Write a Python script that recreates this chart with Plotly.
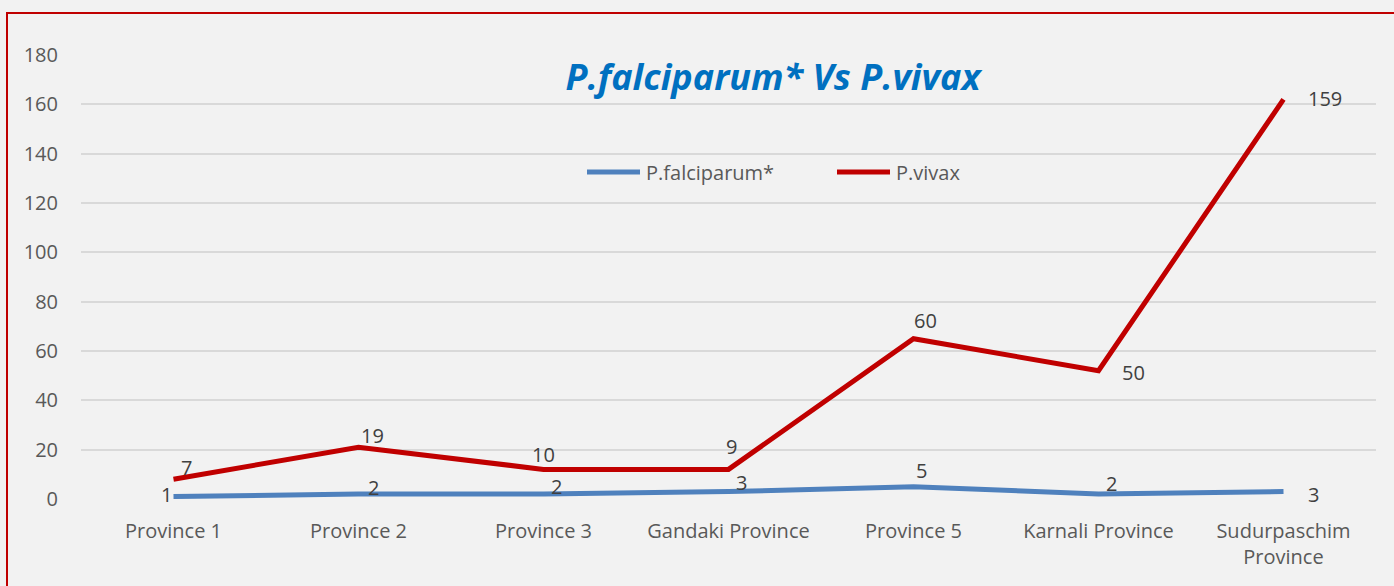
import plotly.graph_objects as go

provinces = ["Province 1", "Province 2", "Province 3", "Gandaki Province",
             "Province 5", "Karnali Province", "Sudurpaschim<br>Province"]
falciparum = [1, 2, 2, 3, 5, 2, 3]
vivax = [7, 19, 10, 9, 60, 50, 159]
y_ticks = [0, 20, 40, 60, 80, 100, 120, 140, 160, 180]

# stacked line chart: the vivax line sits on top of falciparum
vivax_stacked = [f + v for f, v in zip(falciparum, vivax)]

# label offsets (pixels) as placed in the original
falc_offsets = [(-7, -2), (15, -7), (13, -8), (13, -9), (8, -16), (13, -11), (30, 3)]
vivax_offsets = [(13, -12), (14, -12), (0, -15), (3, -23), (12, -18), (35, 2), (41, -1)]

FONT = "Open Sans"
TXT = "#595959"
LBL = "#404040"
BLUE = "#4F81BD"
RED = "#C00000"

L, R, T, B = 81, 18, 55, 87
W, H = 1394, 586
PW, PH = W - L - R, H - T - B


def px(x):
    return (x - L) / PW


def py(y):
    return (H - B - y) / PH


fig = go.Figure()
fig.add_trace(go.Scatter(x=provinces, y=falciparum, name="P.falciparum*", mode="lines",
                         line=dict(color=BLUE, width=5), showlegend=False))
fig.add_trace(go.Scatter(x=provinces, y=vivax_stacked, name="P.vivax", mode="lines",
                         line=dict(color=RED, width=5), showlegend=False))

annotations = []
for cat, yv, val, (dx, dy) in zip(provinces, falciparum, falciparum, falc_offsets):
    annotations.append(dict(x=cat, y=yv, xref="x", yref="y", text=str(val), showarrow=False,
                            xshift=dx, yshift=-dy, font=dict(family=FONT, size=20, color=LBL)))
for cat, yv, val, (dx, dy) in zip(provinces, vivax_stacked, vivax, vivax_offsets):
    annotations.append(dict(x=cat, y=yv, xref="x", yref="y", text=str(val), showarrow=False,
                            xshift=dx, yshift=-dy, font=dict(family=FONT, size=20, color=LBL)))

# legend drawn manually to match the original long line samples
legend_items = [("P.falciparum*", BLUE, 587, 640), ("P.vivax", RED, 837, 890)]
shapes = [dict(type="rect", xref="paper", yref="paper",
               x0=px(7), x1=1.2, y0=-0.5, y1=py(13),
               line=dict(color=RED, width=2), fillcolor="rgba(0,0,0,0)", layer="below")]
for name, col, x0, x1 in legend_items:
    shapes.append(dict(type="line", xref="paper", yref="paper",
                       x0=px(x0), x1=px(x1), y0=py(172), y1=py(172),
                       line=dict(color=col, width=5)))
    annotations.append(dict(x=px(x1 + 4), y=py(172), xref="paper", yref="paper",
                            text=name, showarrow=False, xanchor="left", yanchor="middle",
                            font=dict(family=FONT, size=20, color=TXT)))

fig.update_layout(
    width=W, height=H,
    margin=dict(l=L, r=R, t=T, b=B),
    paper_bgcolor="#F2F2F2", plot_bgcolor="#F2F2F2",
    font=dict(family=FONT, size=20, color=TXT),
    showlegend=False,
    title=dict(text="<b><i>P.falciparum* Vs P.vivax</i></b>",
               font=dict(family=FONT, size=36, color="#0070C0"),
               xref="paper", x=px(773), xanchor="center",
               yref="container", y=1 - 77 / H, yanchor="middle"),
    xaxis=dict(showgrid=False, showline=False, zeroline=False,
               range=[-0.5, 6.5], ticks="", ticklabelstandoff=18,
               tickfont=dict(family=FONT, size=20, color=TXT)),
    yaxis=dict(range=[0, 180], tickvals=y_ticks, showgrid=True,
               gridcolor="#D9D9D9", gridwidth=2, zeroline=False, showline=False,
               ticks="", ticklabelstandoff=22,
               tickfont=dict(family=FONT, size=20, color=TXT)),
    shapes=shapes,
    annotations=annotations,
)

fig.write_html("out.html", config={"displayModeBar": False},
               post_script="document.body.style.margin='0';")
